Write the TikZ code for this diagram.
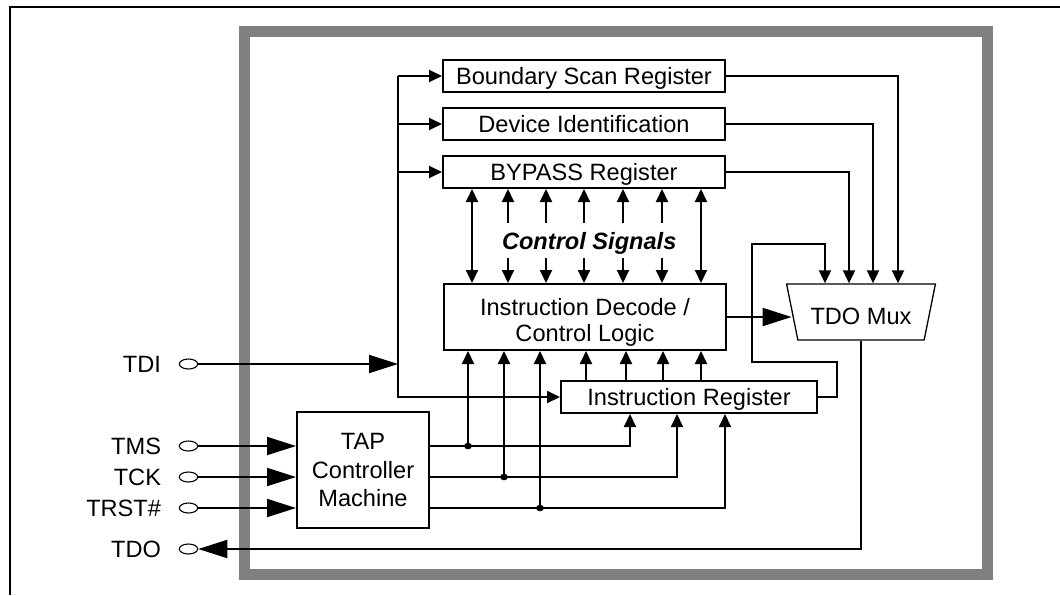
\documentclass[tikz,border=0pt]{standalone}
\usepackage{fontspec}
\setmainfont{Liberation Sans}
\usetikzlibrary{arrows.meta,shapes.geometric}
\definecolor{framegray}{HTML}{808080}
\newcommand\dfont{\fontsize{23.6}{28.4}\selectfont}
\begin{document}
\begin{tikzpicture}[x=1pt,y=-1pt,line width=2pt,
  box/.style={draw,inner sep=0pt,font=\dfont,text height=16.9pt,text depth=0pt},
  lbl/.style={inner sep=0pt,font=\dfont,anchor=east,text height=16.9pt,text depth=0pt},
  pin/.style={draw,ellipse,line width=1.1pt,inner sep=0pt,minimum width=18.4pt,minimum height=10pt},
  sarr/.style={-{Triangle[length=13pt,width=12pt]}},
  barr/.style={-{Triangle[length=29pt,width=18pt]}},
  larr/.style={{Triangle[length=13pt,width=12pt]}-{Triangle[length=13pt,width=12pt]}},
  jdot/.style={ellipse,fill,inner sep=0pt,minimum width=8pt,minimum height=6.5pt}
]
\useasboundingbox (0,0) rectangle (1060,595);
% frames
\draw[framegray,line width=11pt] (244.5,31.5) rectangle (987,574.5);
\draw (10,595) -- (10,7) -- (1060,7);

% blocks
\node[box,minimum width=282pt,minimum height=32pt] (bsr) at (584,76) {Boundary Scan Register};
\node[box,minimum width=282pt,minimum height=32pt] (did) at (584,124) {Device Identification};
\node[box,minimum width=282pt,minimum height=32pt] (byp) at (584,172) {BYPASS Register};
\node[draw,inner sep=0pt,align=center,font={\fontsize{23.6}{25.5}\selectfont},
      minimum width=282pt,minimum height=66pt] (idc) at (585,317)
      {\rule{0pt}{27.6pt}Instruction Decode /\\Control Logic};
\node[box,minimum width=256pt,minimum height=32pt] (ir) at (689,397) {Instruction Register};
\node[draw,inner sep=0pt,align=center,font=\dfont,
      minimum width=132pt,minimum height=116pt] (tap) at (363,470) {TAP\\Controller\\Machine};
\node[draw,trapezium,trapezium left angle=110,trapezium right angle=110,trapezium stretches=true,
      minimum width=149pt,minimum height=56pt,inner sep=0pt,font=\dfont,
      text height=24.8pt,text depth=0pt,line width=1.3pt] (mux) at (861,312) {TDO Mux};

% pins
\foreach \n/\y/\t in {di/364/TDI, ms/446/TMS, ck/477/TCK, rs/508/TRST\#, do/549/TDO} {
  \node[pin] (p\n) at (188.5,\y) {};
  \node[lbl] (l\n) at (162,\y) {\t};
}

% TDI bus
\coordinate (bt) at (398,76);
\draw[barr] (pdi.east) -- (pdi.east -| bt);
\draw[sarr] (bt) -- (bsr.west);
\draw[sarr] (bt |- did.west) -- (did.west);
\draw[sarr] (bt |- byp.west) -- (byp.west);
\draw[sarr] (bt) -- (bt |- ir.west) -- (ir.west);

% TAP inputs
\foreach \n in {ms,ck,rs} \draw[barr] (p\n.east) -- (p\n.east -| tap.west);

% TAP outputs
\coordinate (j1) at (468,446);
\coordinate (j2) at (504,477);
\coordinate (j3) at (540,508);
\coordinate (q1) at (630,446);
\coordinate (q2) at (677,477);
\coordinate (q3) at (725,508);
\foreach \i in {1,2,3} {
  \draw[sarr] (tap.east |- j\i) -- (q\i) -- (q\i |- ir.south);
  \draw[sarr] (j\i) -- (j\i |- idc.south);
  \node[jdot] (d\i) at (j\i) {};
}

% control signals
\coordinate (c0) at (472,240);
\coordinate (c6) at (701,240);
\draw[larr] (c0 |- byp.south) -- (c0 |- idc.north);
\draw[larr] (c6 |- byp.south) -- (c6 |- idc.north);
\foreach \x [count=\i] in {508,546,584,623,662} {
  \coordinate (cu\i) at (\x,223);
  \coordinate (cd\i) at (\x,258);
  \draw[sarr] (cu\i) -- (cu\i |- byp.south);
  \draw[sarr] (cd\i) -- (cd\i |- idc.north);
}
\node[font={\fontsize{23.6}{28}\selectfont\bfseries\itshape},inner sep=0pt,anchor=base] (cs) at (589.2,249.3) {Control Signals};

% IR to decode
\foreach \x [count=\i] in {586,626,663,701} {
  \coordinate (r\i) at (\x,397);
  \draw[sarr] (r\i |- ir.north) -- (r\i |- idc.south);
}

% mux inputs
\coordinate (m1) at (825,244);
\coordinate (m2) at (849,0);
\coordinate (m3) at (873,0);
\coordinate (m4) at (898,0);
\draw[sarr] (ir.east) -- (837,397) -- (837,362) -- (752,362) -- (752,244) -- (m1) -- (m1 |- mux.north);
\draw[sarr] (byp.east) -| (m2 |- mux.north);
\draw[sarr] (did.east) -| (m3 |- mux.north);
\draw[sarr] (bsr.east) -| (m4 |- mux.north);
\draw[barr] (idc.east) -- (idc.east -| mux.west);
\draw[barr] (mux.south) |- (pdo.east);
\end{tikzpicture}
\end{document}
